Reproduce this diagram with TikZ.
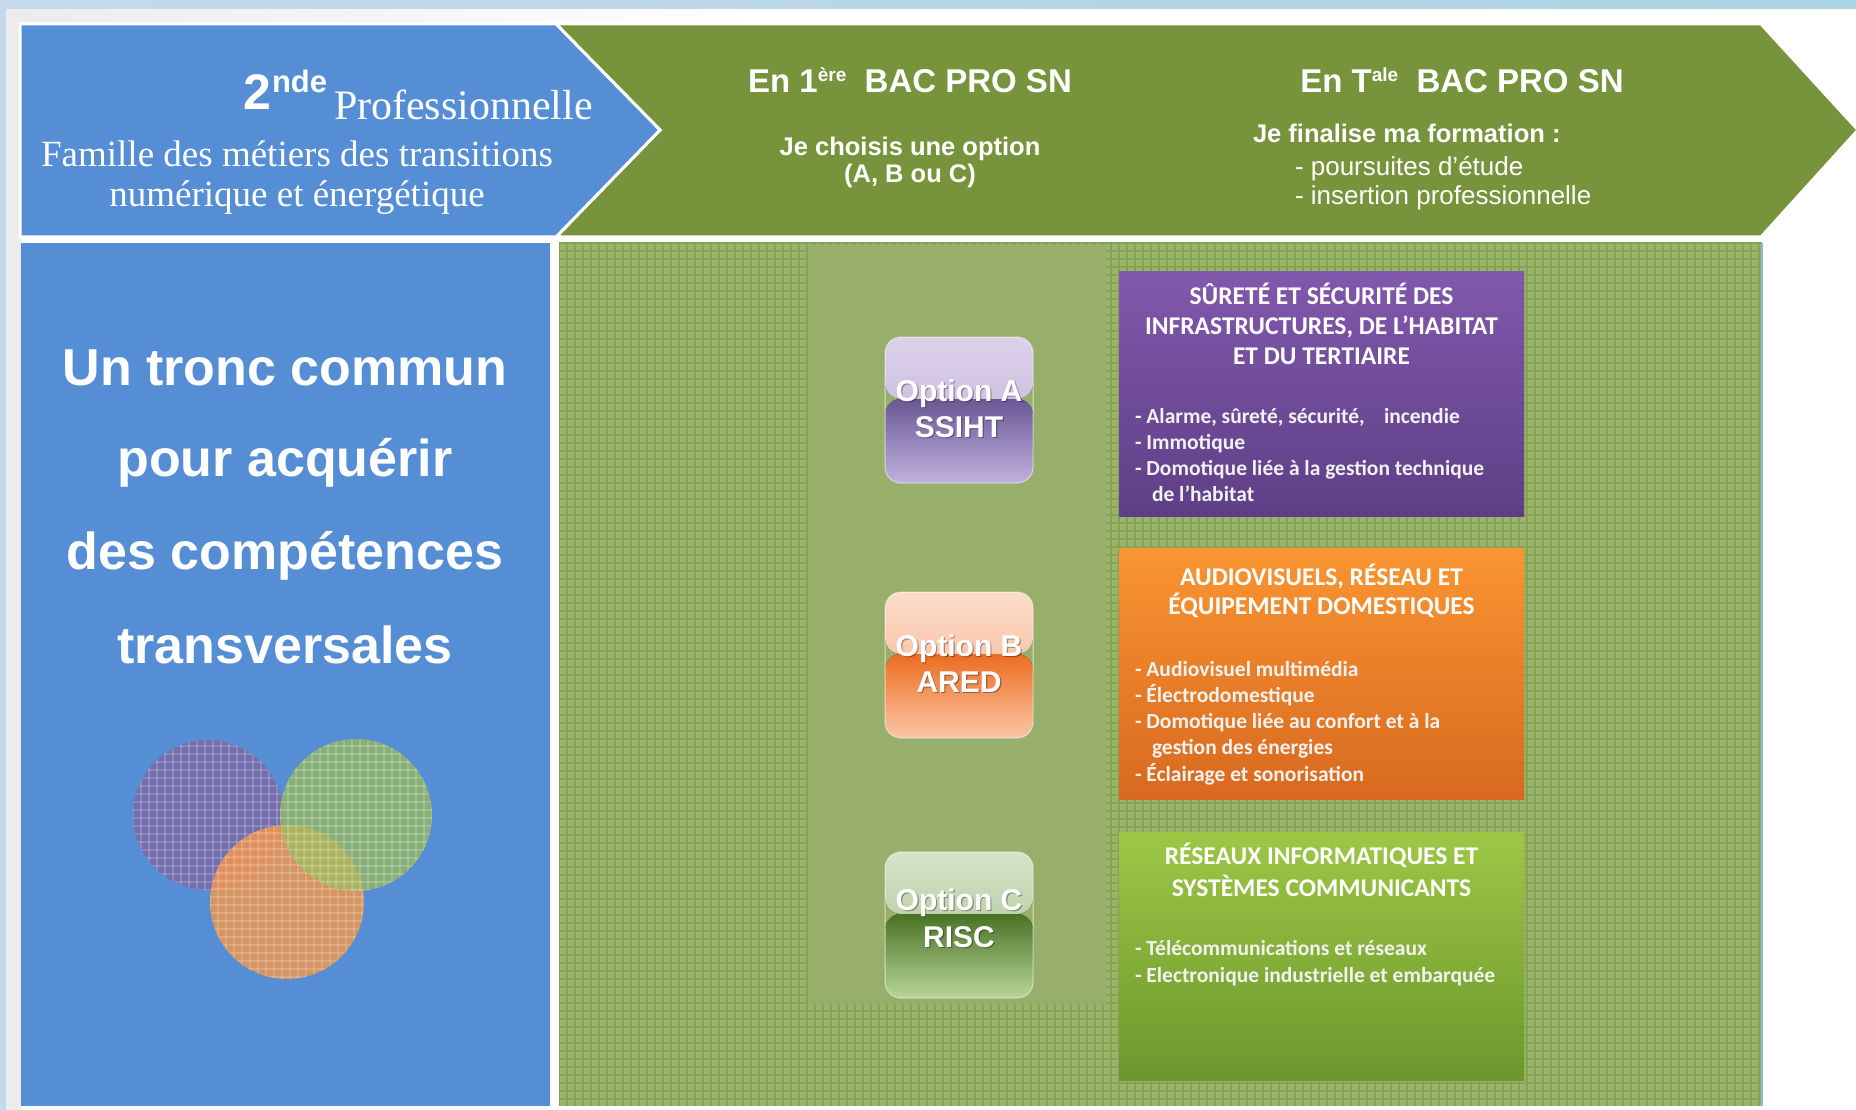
\documentclass[tikz,border=0pt]{standalone}
\usepackage{fontspec}
\setmainfont{Liberation Serif}
\newfontfamily\arialf{Liberation Sans}
\newfontfamily\timesf{Liberation Serif}
\newfontfamily\calf{Carlito}
\newcommand\fsz[1]{\fontsize{#1}{#1}\selectfont}
\definecolor{bluep}{HTML}{558ED5}
\definecolor{greenh}{HTML}{77933C}
\definecolor{gridbg}{HTML}{9AB56B}
\definecolor{gridln}{HTML}{85A355}
\definecolor{colbg}{HTML}{98AF6C}
\definecolor{purT}{HTML}{8158AC}
\definecolor{purB}{HTML}{5E3F86}
\definecolor{oraT}{HTML}{F99532}
\definecolor{oraB}{HTML}{D8691F}
\definecolor{grnT}{HTML}{9DC745}
\definecolor{grnB}{HTML}{6C972D}
\definecolor{bgblueA}{HTML}{C6D9EC}
\definecolor{bgblueB}{HTML}{AAD3E3}
\definecolor{edgeblue}{HTML}{8FB4D9}
\definecolor{cpur}{HTML}{8064A2}
\definecolor{cora}{HTML}{F79646}
\definecolor{cgrn}{HTML}{9BBB59}
\definecolor{aT1}{HTML}{DCD1EA}\definecolor{aT2}{HTML}{BDAED7}\definecolor{aB1}{HTML}{6A5796}\definecolor{aB2}{HTML}{C0B2DE}
\definecolor{bT1}{HTML}{FCDCC8}\definecolor{bT2}{HTML}{F5AD84}\definecolor{bB1}{HTML}{EC6C20}\definecolor{bB2}{HTML}{FBC6A6}
\definecolor{cT1}{HTML}{D6E4C8}\definecolor{cT2}{HTML}{A0BA88}\definecolor{cB1}{HTML}{4A7226}\definecolor{cB2}{HTML}{B6D696}
\newcommand\glossfill[4]{%
  \fill[top color=#1,bottom color=#2] (path picture bounding box.north west) rectangle ([yshift=-62pt]path picture bounding box.north east);
  \fill[top color=#3,bottom color=#4] ([yshift=-62pt]path picture bounding box.north west) rectangle (path picture bounding box.south east);
}
\newcommand\btntext[4]{%
  \node[txt, anchor=base, text=black, text opacity=0.35, font=\arialf\bfseries\fsz{30}] (#1s) at ([xshift=1.2pt,yshift=-1.5pt]#2,#3) {#4};
  \node[txt, anchor=base, font=\arialf\bfseries\fsz{30}] (#1) at (#2,#3) {#4};
}
\tikzset{
  txt/.style={inner sep=0pt, outer sep=0pt, text=white},
  btn/.style={inner sep=0pt, minimum width=148pt, minimum height=146pt, rounded corners=16pt, draw=white, draw opacity=0.6, line width=1pt},
  boxx/.style={inner sep=0pt, minimum width=405pt},
  head/.style={txt, font=\calf\bfseries\fsz{25.5}},
  bul/.style={txt, font=\calf\bfseries\fsz{21.5}, text=white!95!black},
  gl/.style={gridln, line width=2pt},
  cg/.style={white, opacity=0.18, line width=2pt}
}
\begin{document}
\begin{tikzpicture}[x=1pt,y=-1pt]
\useasboundingbox (0,0) rectangle (1856,1110);
% background
\fill[white] (0,0) rectangle (1856,1110);
\shade[left color=white!85!gray, right color=white] (6,9) rectangle (760,24);
\fill[white!85!gray] (6,9) rectangle (21,1110);
\shade[left color=bgblueA, right color=bgblueB] (0,0) rectangle (1856,9);
\fill[bgblueA] (0,0) rectangle (6,1110);
% header arrows
\fill[greenh, draw=white, line width=3pt] (556,24) -- (1761,24) -- (1858,130) -- (1761,237) -- (556,237) -- (660,130) -- cycle;
\fill[bluep, draw=white, line width=3pt] (20,24) -- (556,24) -- (660,130) -- (556,237) -- (20,237) -- cycle;
% body panels
\fill[bluep] (21,243) rectangle (550,1106);
\begin{scope}
  \clip (559,243) rectangle (1762,1106);
  \fill[gridbg] (559,243) rectangle (1762,1106);
  \foreach \x in {559,567,...,1762} \draw[gl] (\x,243) -- (\x,1106);
  \foreach \y in {243,251,...,1106} \draw[gl] (559,\y) -- (1762,\y);
\end{scope}
\draw[edgeblue, line width=1.5pt] (1762,243) -- (1762,1106);
\fill[colbg] (808,245) rectangle (1107,1004);
% circles
\fill[cpur, fill opacity=0.75] (208,815) circle[radius=75pt];
\begin{scope}\clip (208,815) circle[radius=75pt];
  \foreach \x in {133,141,...,285} \draw[cg] (\x,738) -- (\x,892);
  \foreach \y in {738,746,...,892} \draw[cg] (131,\y) -- (285,\y);
\end{scope}
\fill[cora, fill opacity=0.8] (287,902) circle[radius=77pt];
\begin{scope}\clip (287,902) circle[radius=77pt];
  \foreach \x in {210,218,...,366} \draw[cg] (\x,823) -- (\x,981);
  \foreach \y in {825,833,...,981} \draw[cg] (208,\y) -- (366,\y);
\end{scope}
\fill[cgrn, fill opacity=0.75] (356,815) circle[radius=76pt];
\begin{scope}\clip (356,815) circle[radius=76pt];
  \foreach \x in {280,288,...,434} \draw[cg] (\x,737) -- (\x,893);
  \foreach \y in {738,746,...,892} \draw[cg] (278,\y) -- (434,\y);
\end{scope}
% header texts
\node[txt, anchor=base west, font=\arialf\bfseries\fsz{50}] (two) at (243,110) {2};
\node[txt, anchor=base west, font=\arialf\bfseries\fsz{31}] (nde) at (272,93) {nde};
\node[txt, anchor=base west, font=\timesf\fsz{42}] (prof) at (334,120) {Professionnelle};
\node[txt, anchor=base, font=\timesf\fsz{37}] (fam1) at (297,167) {Famille des métiers des transitions};
\node[txt, anchor=base, font=\timesf\fsz{37}] (fam2) at (297,207) {numérique et énergétique};
\node[txt, anchor=base, font=\arialf\bfseries\fsz{33}] (prem) at (910,93) {En 1\raisebox{11pt}{\fsz{19}ère}\ \ BAC PRO SN};
\node[txt, anchor=base, font=\arialf\bfseries\fsz{25.5}] (choix1) at (910,156) {Je choisis une option};
\node[txt, anchor=base, font=\arialf\bfseries\fsz{25.5}] (choix2) at (910,183) {(A, B ou C)};
\node[txt, anchor=base, font=\arialf\bfseries\fsz{33}] (term) at (1462,93) {En T\raisebox{11pt}{\fsz{19}ale}\ \ BAC PRO SN};
\node[txt, anchor=base west, font=\arialf\bfseries\fsz{25.5}] (fin) at (1253,143) {Je finalise ma formation :};
\node[txt, anchor=base west, font=\arialf\fsz{26}] (pours) at (1295,176) {- poursuites d’étude};
\node[txt, anchor=base west, font=\arialf\fsz{26}] (insert) at (1295,205) {- insertion professionnelle};
% left text
\node[txt, anchor=base, font=\arialf\bfseries\fsz{52}] (l1) at (285,385) {Un tronc commun};
\node[txt, anchor=base, font=\arialf\bfseries\fsz{52}] (l2) at (285,476) {pour acquérir};
\node[txt, anchor=base, font=\arialf\bfseries\fsz{52}] (l3) at (285,569) {des compétences};
\node[txt, anchor=base, font=\arialf\bfseries\fsz{52}] (l4) at (285,663) {transversales};
% buttons
\node[btn, path picture={\glossfill{aT1}{aT2}{aB1}{aB2}}] (btnA) at (959,410) {};
\node[btn, path picture={\glossfill{bT1}{bT2}{bB1}{bB2}}] (btnB) at (959,665) {};
\node[btn, path picture={\glossfill{cT1}{cT2}{cB1}{cB2}}] (btnC) at (959,925) {};
\btntext{oa1}{959}{401}{Option A}
\btntext{oa2}{959}{437}{SSIHT}
\btntext{ob1}{959}{656}{Option B}
\btntext{ob2}{959}{692}{ARED}
\btntext{oc1}{959}{910}{Option C}
\btntext{oc2}{959}{947}{RISC}
% option boxes
\node[boxx, minimum height=244pt, top color=purT, bottom color=purB] (boxA) at (1321.5,394) {};
\node[boxx, minimum height=251pt, top color=oraT, bottom color=oraB] (boxB) at (1321.5,673.5) {};
\node[boxx, minimum height=248pt, top color=grnT, bottom color=grnB] (boxC) at (1321.5,956) {};
% box A text
\node[head, anchor=base] (ha1) at (1321.5,304) {SÛRETÉ ET SÉCURITÉ DES};
\node[head, anchor=base] (ha2) at (1321.5,334) {INFRASTRUCTURES, DE L’HABITAT};
\node[head, anchor=base] (ha3) at (1321.5,364) {ET DU TERTIAIRE};
\node[bul, anchor=base west] (ba1) at (1135,423) {- Alarme, sûreté, sécurité,\hspace{0.9em}incendie};
\node[bul, anchor=base west] (ba2) at (1135,449) {- Immotique};
\node[bul, anchor=base west] (ba3) at (1135,475) {- Domotique liée à la gestion technique};
\node[bul, anchor=base west] (ba4) at (1152,501) {de l’habitat};
% box B text
\node[head, anchor=base] (hb1) at (1321.5,585) {AUDIOVISUELS, RÉSEAU ET};
\node[head, anchor=base] (hb2) at (1321.5,614) {ÉQUIPEMENT DOMESTIQUES};
\node[bul, anchor=base west] (bb1) at (1135,676) {- Audiovisuel multimédia};
\node[bul, anchor=base west] (bb2) at (1135,702) {- Électrodomestique};
\node[bul, anchor=base west] (bb3) at (1135,728) {- Domotique liée au confort et à la};
\node[bul, anchor=base west] (bb4) at (1152,754) {gestion des énergies};
\node[bul, anchor=base west] (bb5) at (1135,781) {- Éclairage et sonorisation};
% box C text
\node[head, anchor=base] (hc1) at (1321.5,864) {RÉSEAUX INFORMATIQUES ET};
\node[head, anchor=base] (hc2) at (1321.5,896) {SYSTÈMES COMMUNICANTS};
\node[bul, anchor=base west] (bc1) at (1135,955) {- Télécommunications et réseaux};
\node[bul, anchor=base west] (bc2) at (1135,982) {- Electronique industrielle et embarquée};
\end{tikzpicture}
\end{document}
